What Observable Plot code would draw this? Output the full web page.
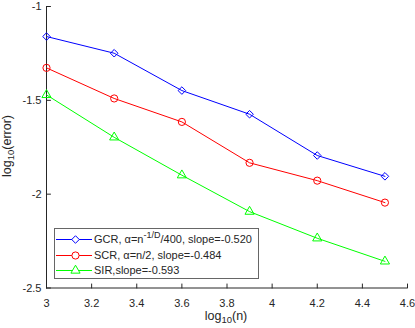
<!DOCTYPE html>
<html><head><meta charset="utf-8">
<script src="https://cdn.jsdelivr.net/npm/d3@7"></script>
<script src="https://cdn.jsdelivr.net/npm/@observablehq/plot@0.6"></script>
<style>
body{margin:0;background:#fff;}
#wrap{position:relative;width:415px;height:328px;font-family:"Liberation Sans",Arial,Helvetica,sans-serif;color:#262626;overflow:hidden;}
.lab{position:absolute;font-size:12.5px;white-space:nowrap;line-height:13px;}
.lab sub{font-size:9.5px;vertical-align:-3px;line-height:0;}
#legend{position:absolute;left:54px;top:228px;width:205px;height:51px;border:1px solid #666;background:#fff;box-sizing:border-box;font-size:11px;}
.row{position:absolute;left:0;height:15px;line-height:15px;white-space:nowrap;}
.row svg{position:absolute;left:0;top:0;}
.row span{position:absolute;left:39px;top:0;}
.row sup{font-size:9px;vertical-align:5px;line-height:0;}
</style></head><body><div id="wrap"></div>
<script>
const logN = [3, 3.3, 3.6, 3.9, 4.2, 4.5];
const gcrErr = [-1.160, -1.249, -1.448, -1.574, -1.794, -1.905];
const scrErr = [-1.327, -1.490, -1.615, -1.833, -1.928, -2.045];
const sirErr = [-1.471, -1.697, -1.899, -2.093, -2.235, -2.358];
const seriesNames = ["GCR", "SCR", "SIR"];
const seriesColors = ["#0000ff", "#ff0000", "#00ff00"];
const seriesSymbols = ["diamond2", "circle", "triangle"];
const legendLabels = [
  'GCR, α=n<sup>-1/D</sup>/400, slope=-0.520',
  'SCR, α=n/2, slope=-0.484',
  'SIR,slope=-0.593'
];
const xTicks = [3, 3.2, 3.4, 3.6, 3.8, 4, 4.2, 4.4, 4.6];
const yTicks = [-2.5, -2, -1.5, -1];

const allSeries = [gcrErr, scrErr, sirErr];
const data = [];
allSeries.forEach((vals, s) => vals.forEach((v, i) => data.push({series: seriesNames[s], x: logN[i], y: v})));

const tickShapeUp = {draw(ctx, l) { ctx.moveTo(0, 0); ctx.lineTo(0, -l); }};
const tickShapeRight = {draw(ctx, l) { ctx.moveTo(0, 0); ctx.lineTo(l, 0); }};
const axisColor = "#262626";

const marks = [
  Plot.ruleX([xTicks[0]], {stroke: axisColor, strokeWidth: 1}),
  Plot.ruleY([yTicks[0]], {stroke: axisColor, strokeWidth: 1}),
  Plot.vector(xTicks, {x: d => d, frameAnchor: "bottom", length: 4, anchor: "start", shape: tickShapeUp, stroke: axisColor, strokeWidth: 1}),
  Plot.vector(yTicks, {y: d => d, frameAnchor: "left", length: 4, anchor: "start", shape: tickShapeRight, stroke: axisColor, strokeWidth: 1}),
  Plot.axisX({ticks: xTicks, tickSize: 0, tickPadding: 11, tickFormat: d => String(d), fill: axisColor, label: null}),
  Plot.axisY({ticks: yTicks, tickSize: 0, tickPadding: 5, tickFormat: d => String(d), fill: axisColor, label: null})
];
seriesNames.forEach((name, s) => {
  const sub = data.filter(d => d.series === name);
  marks.push(Plot.line(sub, {x: "x", y: "y", stroke: seriesColors[s], strokeWidth: 1}));
  marks.push(Plot.dot(sub, {x: "x", y: "y", stroke: seriesColors[s], fill: "none", symbol: seriesSymbols[s], r: s === 1 ? 3.6 : 3.4, strokeWidth: 1}));
});

const chart = Plot.plot({
  width: 415, height: 328,
  marginLeft: 46, marginRight: 8, marginTop: 6, marginBottom: 40.5,
  style: {fontFamily: '"Liberation Sans", Arial, Helvetica, sans-serif', fontSize: "11px", background: "#fff", overflow: "visible"},
  x: {domain: [3, 4.6]},
  y: {domain: [-2.5, -1]},
  marks
});
const wrap = document.getElementById("wrap");
wrap.appendChild(chart);

const xl = document.createElement("div");
xl.className = "lab";
xl.innerHTML = "log<sub>10</sub>(n)";
xl.style.left = "226px"; xl.style.top = "310px"; xl.style.transform = "translateX(-50%)";
wrap.appendChild(xl);

const yl = document.createElement("div");
yl.className = "lab";
yl.innerHTML = "log<sub>10</sub>(error)";
yl.style.left = "7px"; yl.style.top = "146px";
yl.style.transform = "translate(-50%,-50%) rotate(-90deg)";
yl.style.transformOrigin = "center";
wrap.appendChild(yl);

const leg = document.createElement("div");
leg.id = "legend";
legendLabels.forEach((lab, i) => {
  const row = document.createElement("div");
  row.className = "row";
  row.style.top = (3 + i * 15.5) + "px";
  const svg = d3.create("svg").attr("width", 38).attr("height", 15);
  svg.append("line").attr("x1", 1).attr("x2", 37).attr("y1", 7.5).attr("y2", 7.5).attr("stroke", seriesColors[i]).attr("stroke-width", 1);
  const sym = [d3.symbolDiamond2, d3.symbolCircle, d3.symbolTriangle][i];
  const rr = i === 1 ? 3.6 : 3.4;
  svg.append("path").attr("d", d3.symbol(sym, Math.PI * rr * rr)()).attr("transform", "translate(20.5,7.5)")
    .attr("fill", "white").attr("stroke", seriesColors[i]).attr("stroke-width", 1);
  row.appendChild(svg.node());
  const sp = document.createElement("span");
  sp.innerHTML = lab;
  row.appendChild(sp);
  leg.appendChild(row);
});
wrap.appendChild(leg);
</script></body></html>
